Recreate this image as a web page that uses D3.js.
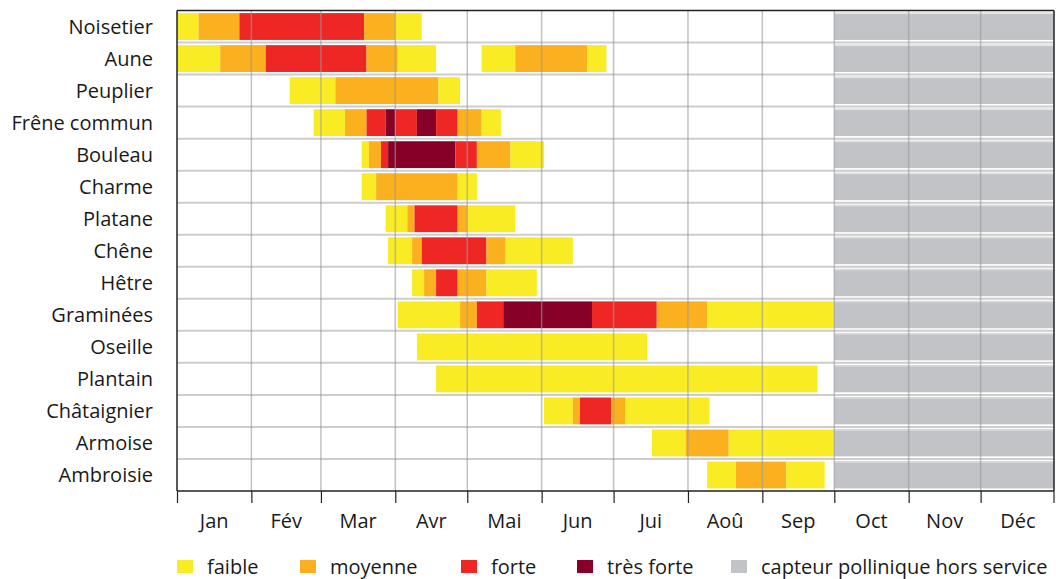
<!DOCTYPE html>
<html>
<head>
<meta charset="utf-8">
<script src="https://cdn.jsdelivr.net/npm/d3@7"></script>
<style>
  body { margin: 0; background: #fff; }
  text { font-family: "Open Sans", sans-serif; fill: #1a1a1a; }
</style>
</head>
<body>
<script>
// calendrier pollinique : périodes [début, fin incluse, niveau]
const plants = ["Noisetier","Aune","Peuplier","Frêne commun","Bouleau","Charme","Platane",
  "Chêne","Hêtre","Graminées","Oseille","Plantain","Châtaignier","Armoise","Ambroisie"];

const levels = ["faible","moyenne","forte","très forte"];
const outLabel = "capteur pollinique hors service";
const months = ["Jan","Fév","Mar","Avr","Mai","Jun","Jui","Aoû","Sep","Oct","Nov","Déc"];

const noisetier = [["01-01","01-09","faible"],["01-10","01-26","moyenne"],["01-27","03-18","forte"],
  ["03-19","03-31","moyenne"],["04-01","04-11","faible"]];
const aune = [["01-01","01-18","faible"],["01-19","02-06","moyenne"],["02-07","03-19","forte"],
  ["03-20","04-01","moyenne"],["04-02","04-17","faible"],
  ["05-07","05-20","faible"],["05-21","06-19","moyenne"],["06-20","06-27","faible"]];
const peuplier = [["02-17","03-06","faible"],["03-07","04-18","moyenne"],["04-19","04-27","faible"]];
const frene = [["02-27","03-10","faible"],["03-11","03-19","moyenne"],["03-20","03-27","forte"],
  ["03-28","03-31","très forte"],["04-01","04-09","forte"],["04-10","04-17","très forte"],
  ["04-18","04-26","forte"],["04-27","05-06","moyenne"],["05-07","05-14","faible"]];
const bouleau = [["03-18","03-20","faible"],["03-21","03-25","moyenne"],["03-26","03-28","forte"],
  ["03-29","04-25","très forte"],["04-26","05-04","forte"],["05-05","05-18","moyenne"],
  ["05-19","06-01","faible"]];
const charme = [["03-18","03-23","faible"],["03-24","04-26","moyenne"],["04-27","05-04","faible"]];
const platane = [["03-28","04-05","faible"],["04-06","04-08","moyenne"],["04-09","04-26","forte"],
  ["04-27","04-30","moyenne"],["05-01","05-20","faible"]];
const chene = [["03-29","04-07","faible"],["04-08","04-11","moyenne"],["04-12","05-08","forte"],
  ["05-09","05-16","moyenne"],["05-17","06-13","faible"]];
const hetre = [["04-08","04-12","faible"],["04-13","04-17","moyenne"],["04-18","04-26","forte"],
  ["04-27","05-08","moyenne"],["05-09","05-29","faible"]];
const graminees = [["04-02","04-27","faible"],["04-28","05-04","moyenne"],["05-05","05-15","forte"],
  ["05-16","06-21","très forte"],["06-22","07-18","forte"],["07-19","08-08","moyenne"],
  ["08-09","09-30","faible"]];
const oseille = [["04-10","07-14","faible"]];
const plantain = [["04-18","09-23","faible"]];
const chataignier = [["06-02","06-13","faible"],["06-14","06-16","moyenne"],["06-17","06-29","forte"],
  ["06-30","07-05","moyenne"],["07-06","08-09","faible"]];
const armoise = [["07-17","07-30","faible"],["07-31","08-17","moyenne"],["08-18","09-30","faible"]];
const ambroisie = [["08-09","08-20","faible"],["08-21","09-10","moyenne"],["09-11","09-26","faible"]];

const series = [noisetier, aune, peuplier, frene, bouleau, charme, platane,
  chene, hetre, graminees, oseille, plantain, chataignier, armoise, ambroisie];
const horsService = ["10-01","12-31"];

const colors = {"faible":"#f9ec24","moyenne":"#fbb11f","forte":"#ee2725","très forte":"#860027"};
const grey = "#c1c3c7";

const W = 1056, H = 579;
const margin = {top: 10.5, right: 1, bottom: 88, left: 177};
const year = 2024;
const parse = s => d3.timeParse("%Y-%m-%d")(year + "-" + s);

const svg = d3.select("body").append("svg").attr("width", W).attr("height", H);

const x = d3.scaleTime()
  .domain([new Date(year, 0, 1), new Date(year + 1, 0, 1)])
  .range([margin.left, W - margin.right]);
const y = d3.scaleBand().domain(plants).range([margin.top, H - margin.bottom]);

const xs = s => x(parse(s));
const xe = s => x(d3.timeDay.offset(parse(s), 1));
const right = W - 2;

const rows = plants.map((p, i) => ({plant: p, segs: series[i]}));
const barPad = 2.6;

// barres
const g = svg.append("g");
rows.forEach(r => {
  g.selectAll(null).data(r.segs).enter().append("rect")
    .attr("x", d => xs(d[0]))
    .attr("width", d => xe(d[1]) - xs(d[0]))
    .attr("y", y(r.plant) + barPad)
    .attr("height", y.bandwidth() - 2 * barPad)
    .attr("fill", d => colors[d[2]]);
});

// capteur hors service
svg.append("g").selectAll("rect").data(plants).enter().append("rect")
  .attr("x", xs(horsService[0]))
  .attr("width", right - xs(horsService[0]))
  .attr("y", d => y(d) + barPad - 0.5)
  .attr("height", y.bandwidth() - 2 * barPad + 0.5)
  .attr("fill", grey);
svg.append("g").selectAll("line").data(plants).enter().append("line")
  .attr("x1", xs(horsService[0])).attr("x2", right)
  .attr("y1", d => y(d) + barPad + 0.5).attr("y2", d => y(d) + barPad + 0.5)
  .attr("stroke", "#fff").attr("stroke-width", 1).attr("opacity", 0.6);

// lignes horizontales entre les rangées
svg.append("g").selectAll("line").data(plants.slice(1)).enter().append("line")
  .attr("x1", margin.left).attr("x2", right)
  .attr("y1", d => y(d)).attr("y2", d => y(d))
  .attr("stroke", "#cdcdcf").attr("stroke-width", 2);

// grille verticale (mois)
const monthStarts = d3.timeMonth.range(new Date(year, 0, 1), new Date(year + 1, 0, 1));
svg.append("g").selectAll("line").data(monthStarts.slice(1)).enter().append("line")
  .attr("x1", d => x(d)).attr("x2", d => x(d))
  .attr("y1", margin.top).attr("y2", H - margin.bottom)
  .attr("stroke", "#9a9a9e").attr("stroke-width", 1.5).attr("opacity", 0.6);

// cadre
svg.append("line").attr("x1", margin.left).attr("x2", right)
  .attr("y1", margin.top).attr("y2", margin.top).attr("stroke", "#222").attr("stroke-width", 1.5);
svg.append("line").attr("x1", margin.left).attr("x2", margin.left)
  .attr("y1", margin.top).attr("y2", H - margin.bottom).attr("stroke", "#222").attr("stroke-width", 1.5);
svg.append("line").attr("x1", right).attr("x2", right)
  .attr("y1", margin.top).attr("y2", H - margin.bottom).attr("stroke", "#222").attr("stroke-width", 1.5);

// axe x
const xAxis = svg.append("g")
  .attr("transform", `translate(0,${H - margin.bottom})`)
  .call(d3.axisBottom(x)
    .tickValues(monthStarts)
    .tickSize(12).tickSizeOuter(0).tickFormat(""));
xAxis.select(".domain").attr("d", `M${margin.left},0H${right}`)
  .attr("stroke", "#222").attr("stroke-width", 1.5);
xAxis.selectAll(".tick line").attr("stroke", "#222").attr("stroke-width", 1.2);
xAxis.append("line").attr("x1", right).attr("x2", right).attr("y2", 12)
  .attr("stroke", "#222").attr("stroke-width", 1.2);

svg.append("g").selectAll("text").data(monthStarts).enter().append("text")
  .attr("x", d => (x(d) + x(d3.timeMonth.offset(d, 1))) / 2)
  .attr("y", H - margin.bottom + 37)
  .attr("text-anchor", "middle")
  .attr("font-size", 20)
  .text((d, i) => months[i]);

// axe y
svg.append("g").selectAll("text").data(plants).enter().append("text")
  .attr("x", 153)
  .attr("y", d => y(d) + y.bandwidth() / 2)
  .attr("dy", "0.35em")
  .attr("text-anchor", "end")
  .attr("font-size", 20)
  .text(d => d);

// légende
const legendItems = levels.map(l => ({label: l, color: colors[l]}))
  .concat([{label: outLabel, color: grey}]);
const legendX = [177, 300, 461, 577, 731];
const leg = svg.append("g").selectAll("g").data(legendItems).enter().append("g")
  .attr("transform", (d, i) => `translate(${legendX[i]},560)`);
leg.append("rect").attr("width", 16).attr("height", 13).attr("fill", d => d.color);
leg.append("text").attr("x", 30).attr("y", 13.5).attr("font-size", 20).text(d => d.label);
</script>
</body>
</html>
